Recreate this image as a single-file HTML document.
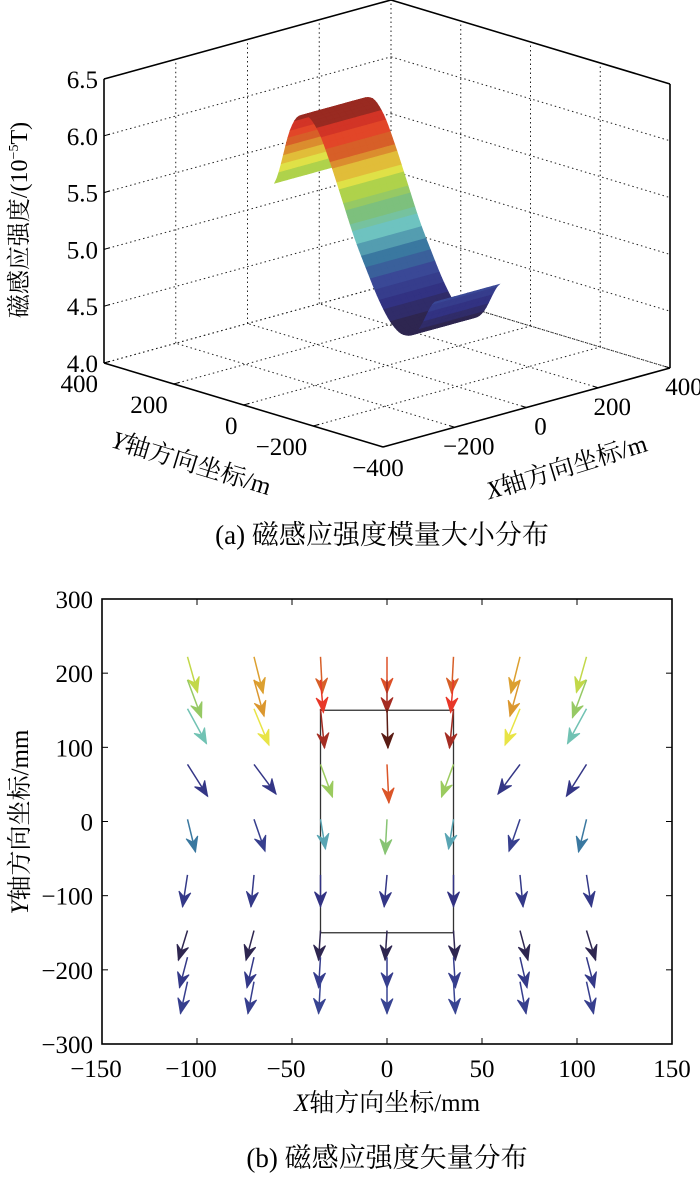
<!DOCTYPE html>
<html><head><meta charset="utf-8">
<style>
html,body{margin:0;padding:0;background:#fff;}
svg, svg text{font-family:"Liberation Serif","Noto Serif CJK SC","DejaVu Serif",serif;}
</style></head>
<body>
<svg id="fig" width="700" height="1173" viewBox="0 0 700 1173" xmlns="http://www.w3.org/2000/svg" font-family="Liberation Serif, Noto Serif CJK SC, serif">
  <g id="p3d"></g>
  <text x="382" y="544" font-size="27" text-anchor="middle">(a) 磁感应强度模量大小分布</text>
  <g id="pq"></g>
  <text x="387" y="1167" font-size="27" text-anchor="middle">(b) 磁感应强度矢量分布</text>
</svg>
<script>
// ---------- 3D surface data ----------
const zTicks = [4.0, 4.5, 5.0, 5.5, 6.0, 6.5];
const xyTicks = [-400, -200, 0, 200, 400];
const surfY = [-230, -180, -140, -105, -70, -35, 0, 35, 70, 105, 140, 180, 230];
const surfB = [4.85, 4.55, 4.48, 4.55, 4.72, 4.95, 5.2, 5.5, 5.8, 6.05, 6.15, 6.02, 5.47];
const surfX = [-90, 90];

// ---------- quiver data ----------
const qx = [-105,-105,-105,-105,-105,-105,-105,-105,-105, -70,-70,-70,-70,-70,-70,-70,-70,-70, -35,-35,-35,-35,-35,-35,-35,-35,-35, 0,0,0,0,0,0,0,0,0];
const qy = [222,191,152,77,3,-72,-147,-183,-216, 222,191,152,77,3,-72,-147,-183,-216, 222,191,152,77,3,-72,-147,-183,-216, 222,191,152,77,3,-72,-147,-183,-216];
const qu = [5.3,7.4,10,10.6,4.2,-2.6,-4.8,-4.2,-3.7, 4.8,5.3,7.9,11.6,5.8,-1.6,-4.2,-3.7,-3.2, 1,1.5,2.1,6.3,2.6,0,-1,-1,-1, 0,0,0.5,1,-1,-1.5,-1,0,0];
const qv = [-48,-51,-47,-43,-44,-43,-40,-41,-43, -49,-49,-49,-40,-43,-43,-40,-41,-43, -49,-44,-53,-44,-40,-43,-40,-41,-43, -49,-44,-53,-52,-47,-43,-40,-41,-43];
const qc = [0.62,0.55,0.42,0.12,0.3,0.13,0.0,0.13,0.16, 0.73,0.74,0.66,0.12,0.16,0.13,0.0,0.13,0.16, 0.8,0.88,0.94,0.56,0.36,0.1,0.0,0.15,0.18, 0.83,0.94,1.0,0.82,0.52,0.12,0.0,0.15,0.18];
const qTicksX = [-150,-100,-50,0,50,100,150];
const qTicksY = [-300,-200,-100,0,100,200,300];
const rectX = [-35, 35];
const rectY = [-150, 150];

const NS = "http://www.w3.org/2000/svg";
function mk(tag, attrs, parent){const e=document.createElementNS(NS,tag);for(const k in attrs)e.setAttribute(k,attrs[k]);parent.appendChild(e);return e;}

const cmStops=[[0,[46,38,80]],[0.1,[50,50,130]],[0.2,[58,72,150]],[0.3,[58,120,160]],[0.4,[110,195,192]],[0.5,[125,192,125]],[0.6,[175,210,75]],[0.66,[232,228,70]],[0.73,[220,160,48]],[0.8,[215,95,40]],[0.88,[232,55,40]],[0.94,[165,45,35]],[1,[90,28,20]]];
function cmap(t){t=Math.max(0,Math.min(1,t));for(let i=1;i<cmStops.length;i++){if(t<=cmStops[i][0]){const a=cmStops[i-1],b=cmStops[i];const f=(t-a[0])/(b[0]-a[0]);const c=a[1].map((v,j)=>Math.round(v+(b[1][j]-v)*f));return `rgb(${c})`;}}return 'rgb(90,28,20)';}

// ---------- 3D ----------
const g3=document.getElementById('p3d');
const F=[383,447],R=[670,368],L=[104,363],ZH=284;
function P(x,y,z){const a=(x+400)/800,b=(y+400)/800,c=(z-4)/2.5;return [F[0]+a*(R[0]-F[0])+b*(L[0]-F[0]), F[1]+a*(R[1]-F[1])+b*(L[1]-F[1])-c*ZH];}
function line(p,q,attrs,name){const e=mk('line',Object.assign({x1:p[0],y1:p[1],x2:q[0],y2:q[1]},attrs),g3);return e;}
const dot={stroke:'#222','stroke-width':1,'stroke-dasharray':'1.5 3'};
zTicks.forEach(z=>{
  line(P(-400,400,z),P(400,400,z),dot,'grid-z-back-left');
  line(P(400,400,z),P(400,-400,z),dot,'grid-z-back-right');
});
xyTicks.forEach(t=>{
  line(P(t,-400,4),P(t,400,4),dot,'grid-floor-x');
  line(P(-400,t,4),P(400,t,4),dot,'grid-floor-y');
  line(P(t,400,4),P(t,400,6.5),dot,'grid-wall-x');
  line(P(400,t,4),P(400,t,6.5),dot,'grid-wall-y');
});
const sf=mk('g',{},g3);
const zmin=Math.min(...surfB),zmax=Math.max(...surfB);
const NX=10,SUB=6;
function bAt(y){for(let i=1;i<surfY.length;i++){if(y<=surfY[i]){const f=(y-surfY[i-1])/(surfY[i]-surfY[i-1]);const a=surfB[Math.max(i-2,0)],b=surfB[i-1],c=surfB[i],d=surfB[Math.min(i+1,surfB.length-1)];const f2=f*f,f3=f2*f;return 0.5*((2*b)+(-a+c)*f+(2*a-5*b+4*c-d)*f2+(-a+3*b-3*c+d)*f3);}}return surfB[surfB.length-1];}
const ny=(surfY.length-1)*SUB,quads=[];
const yA=surfY[0],yB=surfY[surfY.length-1];
for(let i=0;i<ny;i++){const y0=yA+(yB-yA)*i/ny,y1=yA+(yB-yA)*(i+1)/ny;
 for(let j=0;j<NX;j++){const x0=surfX[0]+(surfX[1]-surfX[0])*j/NX,x1=surfX[0]+(surfX[1]-surfX[0])*(j+1)/NX;
  const z0=bAt(y0),z1=bAt(y1);quads.push({d:x0+x1+y0+y1,pts:[P(x0,y0,z0),P(x1,y0,z0),P(x1,y1,z1),P(x0,y1,z1)],z:(z0+z1)/2});}}
quads.sort((a,b)=>b.d-a.d);
quads.forEach(q=>{const t=Math.floor(((q.z-zmin)/(zmax-zmin))*20)/20;const col=cmap(t);
 const e=mk('polygon',{points:q.pts.map(p=>p.join(',')).join(' '),fill:col,stroke:col,'stroke-width':0.6},sf);
 });
const solid={stroke:'#000','stroke-width':1.6};
line(P(-400,400,4),P(-400,400,6.5),solid,'z-axis-line');
line(P(400,-400,4),P(400,-400,6.5),solid,'right-box-edge');
line(P(-400,400,4),P(-400,-400,4),solid,'y-axis-line');
line(P(-400,-400,4),P(400,-400,4),solid,'x-axis-line');
line(P(-400,400,6.5),P(400,400,6.5),solid,'top-box-edge-left');
line(P(400,400,6.5),P(400,-400,6.5),solid,'top-box-edge-right');
function txt(x,y,s,attrs,name,parent){const e=mk('text',Object.assign({x:x,y:y},attrs),parent||g3);e.textContent=s;return e;}
zTicks.forEach(z=>{const p=P(-400,400,z);line(p,[p[0]+6,p[1]-1.7],{stroke:'#000','stroke-width':1},'z-tick');
 txt(p[0]-6,p[1]+9,z.toFixed(1),{'font-size':25,'text-anchor':'end'},'z-tick-label');});
xyTicks.forEach(t=>{const p=P(-400,t,4);line(p,[p[0]+6,p[1]-1.6],{stroke:'#000','stroke-width':1},'y-tick');
 const s=String(t).replace('-','−');
 if(t===-400) txt(p[0]-5,p[1]+29,s,{'font-size':25,'text-anchor':'middle'},'y-tick-label');
 else txt(p[0]-6,p[1]+29,s,{'font-size':25,'text-anchor':'end'},'y-tick-label');});
xyTicks.forEach(t=>{if(t===-400)return;const p=P(t,-400,4);line(p,[p[0]-5,p[1]-1.5],{stroke:'#000','stroke-width':1},'x-tick');
 txt(p[0]+14,p[1]+27,String(t).replace('-','−'),{'font-size':25,'text-anchor':'middle'},'x-tick-label');});
const zt=txt(0,0,'磁感应强度/(10',{'font-size':24,'text-anchor':'middle',transform:'translate(27,220) rotate(-90)'},'z-axis-title');
const sup=mk('tspan',{'font-size':14,dy:-9},zt);sup.textContent='−5';
const tT=mk('tspan',{dy:9},zt);tT.textContent='T)';
const yt=txt(0,0,'',{'font-size':25,'text-anchor':'middle',transform:'translate(189,471) rotate(17)'},'y-axis-title-3d');
const yi=mk('tspan',{'font-style':'italic'},yt);yi.textContent='Y';const yr=mk('tspan',{},yt);yr.textContent='轴方向坐标/m';
const xt=txt(0,0,'',{'font-size':25,'text-anchor':'middle',transform:'translate(569,475) rotate(-17)'},'x-axis-title-3d');
const xi=mk('tspan',{'font-style':'italic'},xt);xi.textContent='X';const xr=mk('tspan',{},xt);xr.textContent='轴方向坐标/m';

// ---------- quiver ----------
const gq=document.getElementById('pq');
const AX={l:102,r:672,t:599,b:1044};
const sx=v=>AX.l+(v-qTicksX[0])/(qTicksX[qTicksX.length-1]-qTicksX[0])*(AX.r-AX.l);
const sy=v=>AX.b-(v-qTicksY[0])/(qTicksY[qTicksY.length-1]-qTicksY[0])*(AX.b-AX.t);
const frame=mk('rect',{x:AX.l,y:AX.t,width:AX.r-AX.l,height:AX.b-AX.t,fill:'none',stroke:'#000','stroke-width':1.6},gq);

qTicksX.forEach(t=>{const x=sx(t);
 const a=mk('line',{x1:x,y1:AX.b,x2:x,y2:AX.b-6,stroke:'#000','stroke-width':1},gq);
 const b=mk('line',{x1:x,y1:AX.t,x2:x,y2:AX.t+6,stroke:'#000','stroke-width':1},gq);
 txt(x-(t<0?6:0),1077,String(t).replace('-','−'),{'font-size':25,'text-anchor':'middle'},'x-tick-label',gq);});
qTicksY.forEach(t=>{const y=sy(t);
 const a=mk('line',{x1:AX.l,y1:y,x2:AX.l+6,y2:y,stroke:'#000','stroke-width':1},gq);
 const b=mk('line',{x1:AX.r,y1:y,x2:AX.r-6,y2:y,stroke:'#000','stroke-width':1},gq);
 txt(AX.l-9,y+9,String(t).replace('-','−'),{'font-size':25,'text-anchor':'end'},'y-tick-label',gq);});
const rc=mk('rect',{x:sx(rectX[0]),y:sy(rectY[1]),width:sx(rectX[1])-sx(rectX[0]),height:sy(rectY[0])-sy(rectY[1]),fill:'none',stroke:'#333','stroke-width':1.3},gq);

function arrow(x,y,u,v,c){
 const x0=sx(x),y0=sy(y),x1=sx(x+u),y1=sy(y+v);const col=cmap(c);
 const dx=x1-x0,dy=y1-y0,len=Math.hypot(dx,dy),ux=dx/len,uy=dy/len;const hl=15,hw=6;
 const bx=x1-ux*hl,by=y1-uy*hl;
 const g=mk('g',{},gq);
 mk('line',{x1:x0,y1:y0,x2:x1,y2:y1,stroke:col,'stroke-width':1.5},g);
 mk('polygon',{points:`${x1},${y1} ${bx-uy*hw},${by+ux*hw} ${bx+ux*5},${by+uy*5} ${bx+uy*hw},${by-ux*hw}`,fill:col,stroke:col,'stroke-width':1},g);
}
for(let i=0;i<qx.length;i++){
 arrow(qx[i],qy[i],qu[i],qv[i],qc[i]);
 if(qx[i]!==0) arrow(-qx[i],qy[i],-qu[i],qv[i],qc[i]);
}
const xtq=txt(387,1111,'',{'font-size':25,'text-anchor':'middle'},'x-axis-title',gq);
const a1=mk('tspan',{'font-style':'italic'},xtq);a1.textContent='X';const a2=mk('tspan',{},xtq);a2.textContent='轴方向坐标/mm';
const ytq=txt(0,0,'',{'font-size':25,'text-anchor':'middle',transform:'translate(28,822) rotate(-90)'},'y-axis-title',gq);
const b1=mk('tspan',{'font-style':'italic'},ytq);b1.textContent='Y';const b2=mk('tspan',{},ytq);b2.textContent='轴方向坐标/mm';
</script>
</body></html>
